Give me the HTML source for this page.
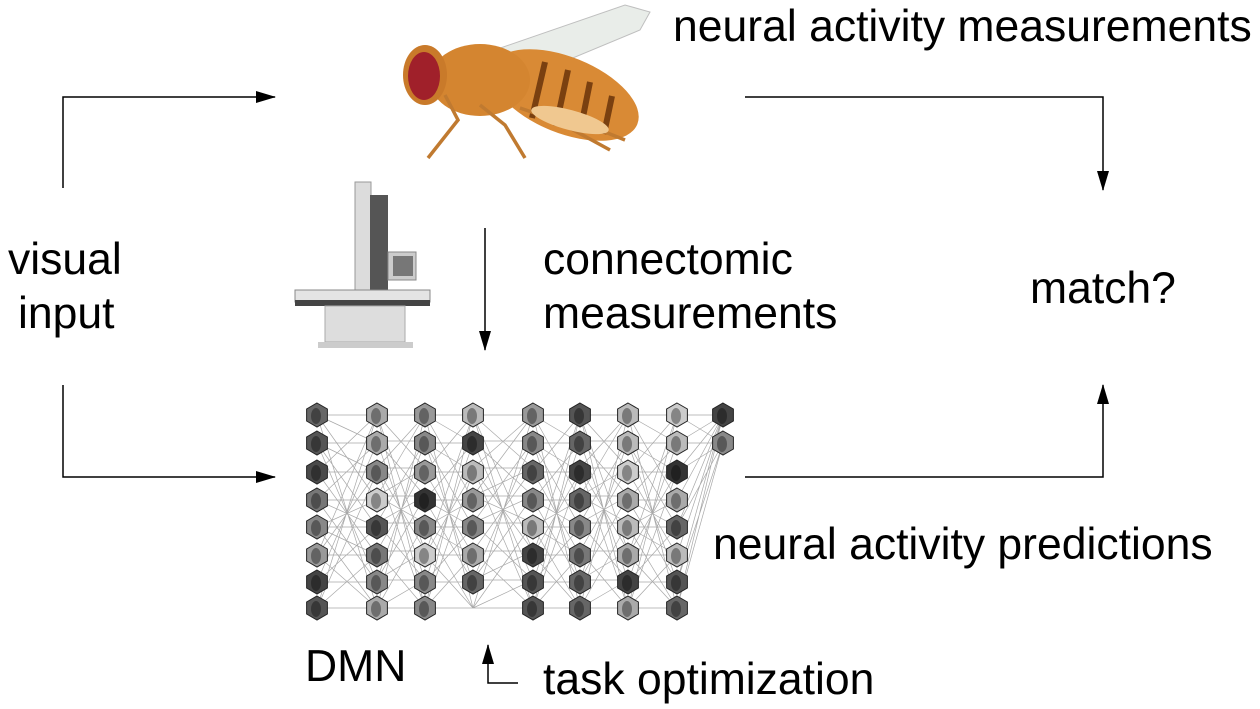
<!DOCTYPE html><html><head><style>body{margin:0;background:#fff}svg{display:block}text{font-family:"Liberation Sans",sans-serif;fill:#000;font-size:44.5px}</style></head><body>
<svg width="1260" height="709" viewBox="0 0 1260 709" xmlns="http://www.w3.org/2000/svg" xmlns:xlink="http://www.w3.org/1999/xlink">
<defs>
<marker id="b" markerWidth="20" markerHeight="12" refX="19" refY="6" orient="auto" markerUnits="userSpaceOnUse"><path d="M0,0 L20,6 L0,12 z" fill="#000"/></marker>
<g id="h"><polygon points="0,-12 10.4,-6 10.4,6 0,12 -10.4,6 -10.4,-6" stroke="#222" stroke-width="1"/><ellipse cx="-1" cy="1" rx="5" ry="8" fill="#000" opacity="0.35"/></g>
<path id="L" fill="none" vector-effect="non-scaling-stroke" d="M0,415h48M0,443h48M0,472h48M0,500h48M0,527h48M0,555h48M0,582h48M0,608h48
M0,415L48,608M0,443L48,582M0,472L48,555M0,500L48,527M0,527L48,500M0,555L48,472M0,582L48,443M0,608L48,415
M0,415L48,500M0,443L48,527M0,472L48,555M0,500L48,582M0,527L48,608M0,555L48,415M0,582L48,443M0,608L48,472
M0,415L48,443M0,443L48,472M0,472L48,415M0,500L48,443M0,527L48,555M0,555L48,608M0,582L48,527M0,608L48,555"/>
</defs>
<g stroke="#000" stroke-width="1.5" fill="none">
<path d="M63,188 V97 H275" marker-end="url(#b)"/>
<path d="M63,385 V477 H275" marker-end="url(#b)"/>
<path d="M745,97 H1103 V190" marker-end="url(#b)"/>
<path d="M745,477 H1103 V385" marker-end="url(#b)"/>
<path d="M485,228 V350" marker-end="url(#b)"/>
<path d="M518,683 H488 V645" marker-end="url(#b)"/>
</g>
<text x="673" y="41">neural activity measurements</text>
<text x="543" y="274">connectomic</text><text x="543" y="328">measurements</text>
<text x="8" y="274">visual</text><text x="18" y="328">input</text>
<text x="1030" y="303">match?</text>
<text x="713" y="559">neural activity predictions</text>
<text x="305" y="681">DMN</text>
<text x="543" y="694">task optimization</text>
<!-- fly -->
<g>
<path d="M480,55 L625,5 L650,12 L640,30 L520,80 Z" fill="#e6ebe6" stroke="#b5b5b5" opacity="0.85"/>
<ellipse cx="565" cy="95" rx="78" ry="38" fill="#d98a35" transform="rotate(22 565 95)"/>
<ellipse cx="480" cy="80" rx="50" ry="36" fill="#d48530"/>
<ellipse cx="425" cy="75" rx="22" ry="30" fill="#c97a2a"/>
<ellipse cx="424" cy="76" rx="16" ry="24" fill="#a0202a"/>
<g stroke="#7a4010" stroke-width="6"><line x1="545" y1="62" x2="532" y2="118"/><line x1="568" y1="70" x2="556" y2="126"/><line x1="590" y1="82" x2="580" y2="132"/><line x1="612" y1="96" x2="604" y2="134"/></g>
<g stroke="#c07a30" stroke-width="3.5" fill="none"><path d="M445,95 L458,120 L428,158"/><path d="M480,105 L505,125 L525,158"/><path d="M520,108 L555,120 L610,150"/><path d="M600,130 L625,140"/></g>
<ellipse cx="570" cy="120" rx="40" ry="10" fill="#f0c890" transform="rotate(15 570 120)"/>
</g>
<!-- microscope -->
<g>
<rect x="355" y="182" width="16" height="120" fill="#dcdcdc" stroke="#999"/>
<rect x="370" y="195" width="18" height="100" fill="#555"/>
<rect x="388" y="252" width="28" height="28" fill="#ccc" stroke="#888"/>
<rect x="393" y="256" width="20" height="20" fill="#777"/>
<path d="M295,290 H430 V302 H295 Z" fill="#e4e4e4" stroke="#888"/>
<rect x="295" y="300" width="135" height="6" fill="#444"/>
<rect x="325" y="306" width="80" height="36" fill="#ddd" stroke="#aaa"/>
<rect x="318" y="342" width="95" height="6" fill="#ccc"/>
</g>
<!-- network lines -->
<g stroke="#999" stroke-width="0.7" opacity="0.85">
<use xlink:href="#L" transform="translate(317,0) scale(1.25,1)"/>
<use xlink:href="#L" transform="translate(377,1023) scale(1,-1)"/>
<use xlink:href="#L" transform="translate(425,0) scale(1,1)"/>
<use xlink:href="#L" transform="translate(473,1023) scale(1.25,-1)"/>
<use xlink:href="#L" transform="translate(533,0) scale(0.98,1)"/>
<use xlink:href="#L" transform="translate(580,1023) scale(1,-1)"/>
<use xlink:href="#L" transform="translate(628,0) scale(1.02,1)"/>
<path fill="none" d="M677,415L723,415M677,443L723,415M677,472L723,415M677,500L723,415M677,527L723,415M677,555L723,415M677,582L723,415M677,608L723,415M677,415L723,443M677,443L723,443M677,472L723,443M677,527L723,443M677,582L723,443M677,608L723,443"/>
</g>
<!-- hexes -->
<g>
<use xlink:href="#h" x="317" y="415" fill="#666"/><use xlink:href="#h" x="317" y="443" fill="#555"/><use xlink:href="#h" x="317" y="472" fill="#4a4a4a"/><use xlink:href="#h" x="317" y="500" fill="#777"/><use xlink:href="#h" x="317" y="527" fill="#888"/><use xlink:href="#h" x="317" y="555" fill="#999"/><use xlink:href="#h" x="317" y="582" fill="#444"/><use xlink:href="#h" x="317" y="608" fill="#555"/>
<use xlink:href="#h" x="377" y="415" fill="#aaa"/><use xlink:href="#h" x="377" y="443" fill="#aaa"/><use xlink:href="#h" x="377" y="472" fill="#888"/><use xlink:href="#h" x="377" y="500" fill="#ccc"/><use xlink:href="#h" x="377" y="527" fill="#555"/><use xlink:href="#h" x="377" y="555" fill="#777"/><use xlink:href="#h" x="377" y="582" fill="#888"/><use xlink:href="#h" x="377" y="608" fill="#aaa"/>
<use xlink:href="#h" x="425" y="415" fill="#999"/><use xlink:href="#h" x="425" y="443" fill="#888"/><use xlink:href="#h" x="425" y="472" fill="#999"/><use xlink:href="#h" x="425" y="500" fill="#333"/><use xlink:href="#h" x="425" y="527" fill="#888"/><use xlink:href="#h" x="425" y="555" fill="#ccc"/><use xlink:href="#h" x="425" y="582" fill="#888"/><use xlink:href="#h" x="425" y="608" fill="#888"/>
<use xlink:href="#h" x="473" y="415" fill="#bbb"/><use xlink:href="#h" x="473" y="443" fill="#444"/><use xlink:href="#h" x="473" y="472" fill="#bbb"/><use xlink:href="#h" x="473" y="500" fill="#999"/><use xlink:href="#h" x="473" y="527" fill="#888"/><use xlink:href="#h" x="473" y="555" fill="#aaa"/><use xlink:href="#h" x="473" y="582" fill="#666"/>
<use xlink:href="#h" x="533" y="415" fill="#999"/><use xlink:href="#h" x="533" y="443" fill="#888"/><use xlink:href="#h" x="533" y="472" fill="#666"/><use xlink:href="#h" x="533" y="500" fill="#888"/><use xlink:href="#h" x="533" y="527" fill="#bbb"/><use xlink:href="#h" x="533" y="555" fill="#444"/><use xlink:href="#h" x="533" y="582" fill="#555"/><use xlink:href="#h" x="533" y="608" fill="#555"/>
<use xlink:href="#h" x="580" y="415" fill="#555"/><use xlink:href="#h" x="580" y="443" fill="#666"/><use xlink:href="#h" x="580" y="472" fill="#444"/><use xlink:href="#h" x="580" y="500" fill="#666"/><use xlink:href="#h" x="580" y="527" fill="#888"/><use xlink:href="#h" x="580" y="555" fill="#777"/><use xlink:href="#h" x="580" y="582" fill="#666"/><use xlink:href="#h" x="580" y="608" fill="#666"/>
<use xlink:href="#h" x="628" y="415" fill="#bbb"/><use xlink:href="#h" x="628" y="443" fill="#bbb"/><use xlink:href="#h" x="628" y="472" fill="#ccc"/><use xlink:href="#h" x="628" y="500" fill="#aaa"/><use xlink:href="#h" x="628" y="527" fill="#bbb"/><use xlink:href="#h" x="628" y="555" fill="#aaa"/><use xlink:href="#h" x="628" y="582" fill="#444"/><use xlink:href="#h" x="628" y="608" fill="#aaa"/>
<use xlink:href="#h" x="677" y="415" fill="#ccc"/><use xlink:href="#h" x="677" y="443" fill="#bbb"/><use xlink:href="#h" x="677" y="472" fill="#333"/><use xlink:href="#h" x="677" y="500" fill="#aaa"/><use xlink:href="#h" x="677" y="527" fill="#666"/><use xlink:href="#h" x="677" y="555" fill="#bbb"/><use xlink:href="#h" x="677" y="582" fill="#555"/><use xlink:href="#h" x="677" y="608" fill="#666"/>
<use xlink:href="#h" x="723" y="415" fill="#444"/><use xlink:href="#h" x="723" y="443" fill="#888"/>
</g>
</svg></body></html>
